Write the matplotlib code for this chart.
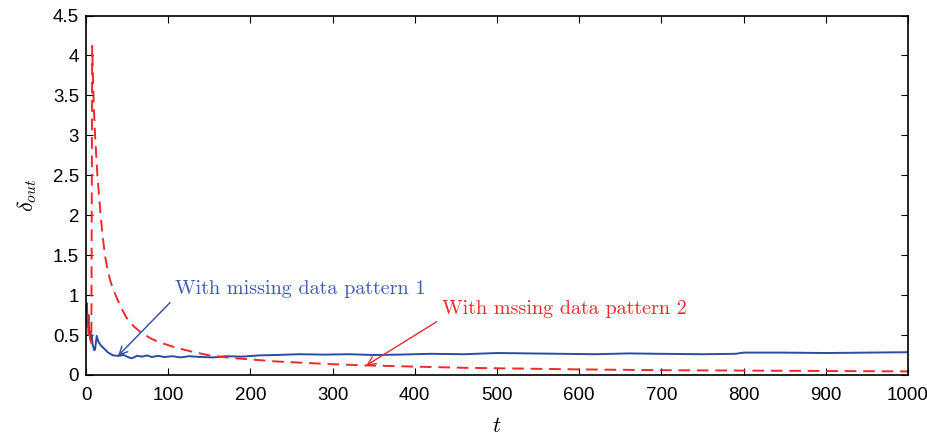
import matplotlib
matplotlib.use("Agg")
import matplotlib.pyplot as plt

# values
t_blue = [0, 1, 2, 3, 4, 5, 6, 7, 8, 10, 11, 13, 15, 18, 22, 27, 33, 40, 46, 52, 56,
          62, 68, 74, 80, 88, 95, 105, 115, 125, 140, 155, 170, 190, 210, 230, 260,
          290, 320, 350, 380, 420, 460, 500, 540, 580, 620, 660, 700, 750, 790, 800,
          850, 900, 950, 1000]
delta_blue = [0.70, 0.90, 0.60, 0.75, 0.50, 0.55, 0.45, 0.50, 0.38, 0.31, 0.32, 0.49,
              0.42, 0.37, 0.33, 0.28, 0.245, 0.24, 0.25, 0.22, 0.21, 0.24, 0.23, 0.245,
              0.225, 0.24, 0.225, 0.235, 0.22, 0.235, 0.225, 0.22, 0.235, 0.23, 0.245,
              0.25, 0.26, 0.255, 0.26, 0.25, 0.255, 0.265, 0.26, 0.275, 0.27, 0.265,
              0.26, 0.27, 0.265, 0.26, 0.265, 0.28, 0.28, 0.275, 0.28, 0.285]

t_red = [0, 1, 2, 3, 4, 5, 6.5, 7.5, 8.5, 9.5, 11, 13.8, 17.8, 20, 23, 26, 29, 32, 36,
         41, 49, 58, 67, 80, 95, 110, 130, 150, 175, 200, 230, 260, 300, 340, 400,
         460, 530, 600, 700, 800, 900, 1000]
delta_red = [0.80, 0.60, 0.75, 0.50, 0.55, 0.45, 0.40, 4.12, 3.70, 3.35, 3.0, 2.5,
             2.0, 1.76, 1.5, 1.33, 1.2, 1.1, 1.0, 0.88, 0.72, 0.61, 0.53, 0.45, 0.39,
             0.34, 0.29, 0.245, 0.215, 0.195, 0.17, 0.155, 0.135, 0.12, 0.105, 0.09,
             0.08, 0.07, 0.06, 0.055, 0.05, 0.045]

blue = '#2B4BA5'
red = '#EE2A2A'

plt.rcParams['font.family'] = ['Liberation Sans', 'DejaVu Sans']
plt.rcParams['mathtext.fontset'] = 'cm'

fig = plt.figure(figsize=(9.28, 4.37), dpi=100)
ax = fig.add_axes([0.0927, 0.1419, 0.8857, 0.8226])

ax.plot(t_blue, delta_blue, color=blue, lw=1.4)
ax.plot(t_red, delta_red, color=red, lw=1.4, linestyle=(0, (6, 3.5)))

ax.set_xlim(0, 1000)
ax.set_ylim(0, 4.5)
ax.set_xticks(range(0, 1001, 100))
ax.set_yticks([0, 0.5, 1, 1.5, 2, 2.5, 3, 3.5, 4, 4.5])
ax.set_yticklabels(['0', '0.5', '1', '1.5', '2', '2.5', '3', '3.5', '4', '4.5'])
ax.tick_params(direction='in', top=True, right=True, labelsize=13.5, length=5, width=0.8)
ax.tick_params(axis='x', pad=9)
ax.tick_params(axis='y', pad=5)
for s in ax.spines.values():
    s.set_linewidth(1.2)

ax.set_xlabel(r'$t$', fontsize=16, labelpad=8)
ax.set_ylabel(r'$\delta_{out}$', fontsize=16, labelpad=10)

ax.annotate('With missing data pattern 1', xy=(39, 0.24), xytext=(108, 1.08),
            color='#3F5CB5', fontsize=14.5, family='cmr10', va='center',
            arrowprops=dict(arrowstyle='->', color=blue, lw=1.0, relpos=(0, 0),
                            shrinkA=2, shrinkB=0))
ax.annotate('With mssing data pattern 2', xy=(341, 0.12), xytext=(433, 0.82),
            color=red, fontsize=14.5, family='cmr10', va='center',
            arrowprops=dict(arrowstyle='->', color=red, lw=1.0, relpos=(0, 0),
                            shrinkA=2, shrinkB=0))

fig.savefig('out.png', dpi=100)
